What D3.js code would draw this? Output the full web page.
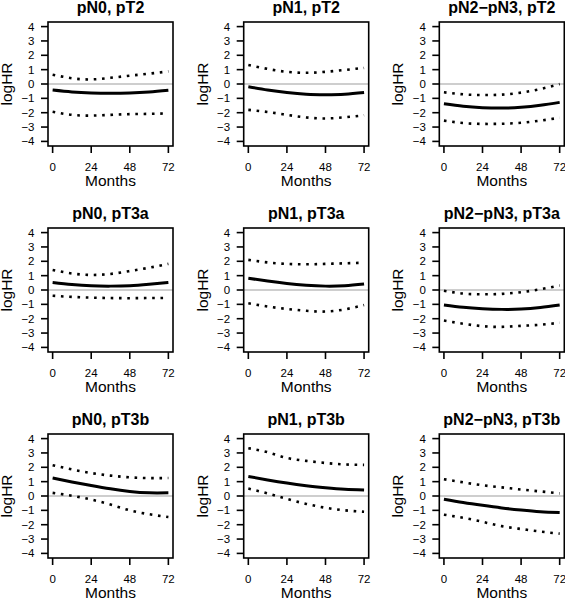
<!DOCTYPE html>
<html><head><meta charset="utf-8">
<script src="https://cdn.jsdelivr.net/npm/d3@7/dist/d3.min.js"></script>
<style>
html,body{margin:0;padding:0;background:#fff;}
svg{display:block;}
text{font-family:"Liberation Sans",Arial,Helvetica,sans-serif;fill:#000;}
</style></head>
<body>
<svg id="chart" width="565" height="598"></svg>
<script>
// ---- data ----
const months = [0, 12, 24, 36, 48, 60, 72];
const nodeLabels = ["pN0", "pN1", "pN2\u2212pN3"];
const stageLabels = ["pT2", "pT3a", "pT3b"];
const xTicks = [0, 24, 48, 72];
const yTicks = [-4, -3, -2, -1, 0, 1, 2, 3, 4];

// estimates (row = stage, col = node)
const est_pN0_pT2  = [-0.42, -0.55, -0.62, -0.64, -0.62, -0.55, -0.43];
const up_pN0_pT2   = [0.65, 0.40, 0.32, 0.43, 0.58, 0.72, 0.88];
const lo_pN0_pT2   = [-1.93, -2.15, -2.20, -2.15, -2.10, -2.08, -2.05];

const est_pN1_pT2  = [-0.19, -0.42, -0.60, -0.72, -0.75, -0.72, -0.60];
const up_pN1_pT2   = [1.33, 1.05, 0.85, 0.78, 0.85, 0.98, 1.12];
const lo_pN1_pT2   = [-1.80, -1.95, -2.15, -2.33, -2.40, -2.32, -2.18];

const est_pN23_pT2 = [-1.38, -1.55, -1.65, -1.68, -1.62, -1.48, -1.28];
const up_pN23_pT2  = [-0.58, -0.72, -0.77, -0.74, -0.60, -0.35, 0.00];
const lo_pN23_pT2  = [-2.55, -2.72, -2.78, -2.77, -2.70, -2.55, -2.35];

const est_pN0_pT3a  = [0.52, 0.38, 0.29, 0.27, 0.30, 0.40, 0.52];
const up_pN0_pT3a   = [1.40, 1.15, 1.05, 1.12, 1.32, 1.55, 1.82];
const lo_pN0_pT3a   = [-0.40, -0.48, -0.53, -0.56, -0.57, -0.56, -0.55];

const est_pN1_pT3a  = [0.82, 0.62, 0.45, 0.33, 0.27, 0.30, 0.42];
const up_pN1_pT3a   = [2.10, 1.92, 1.82, 1.79, 1.82, 1.86, 1.90];
const lo_pN1_pT3a   = [-0.92, -1.15, -1.32, -1.45, -1.50, -1.35, -1.05];

const est_pN23_pT3a = [-1.04, -1.20, -1.30, -1.35, -1.33, -1.22, -1.05];
const up_pN23_pT3a  = [-0.05, -0.25, -0.30, -0.27, -0.15, 0.05, 0.32];
const lo_pN23_pT3a  = [-2.13, -2.35, -2.52, -2.57, -2.50, -2.42, -2.28];

const est_pN0_pT3b  = [1.25, 0.98, 0.73, 0.50, 0.32, 0.22, 0.22];
const up_pN0_pT3b   = [2.15, 1.85, 1.60, 1.42, 1.30, 1.25, 1.25];
const lo_pN0_pT3b   = [0.22, 0.02, -0.25, -0.60, -1.00, -1.27, -1.47];

const est_pN1_pT3b  = [1.36, 1.12, 0.90, 0.72, 0.58, 0.47, 0.42];
const up_pN1_pT3b   = [3.33, 3.05, 2.65, 2.45, 2.30, 2.20, 2.17];
const lo_pN1_pT3b   = [0.52, 0.18, -0.20, -0.55, -0.82, -1.00, -1.10];

const est_pN23_pT3b = [-0.22, -0.45, -0.65, -0.83, -0.98, -1.10, -1.15];
const up_pN23_pT3b  = [1.17, 0.95, 0.75, 0.60, 0.45, 0.32, 0.18];
const lo_pN23_pT3b  = [-1.30, -1.52, -1.80, -2.10, -2.30, -2.48, -2.62];

const panels = [
  [[est_pN0_pT2, up_pN0_pT2, lo_pN0_pT2], [est_pN1_pT2, up_pN1_pT2, lo_pN1_pT2], [est_pN23_pT2, up_pN23_pT2, lo_pN23_pT2]],
  [[est_pN0_pT3a, up_pN0_pT3a, lo_pN0_pT3a], [est_pN1_pT3a, up_pN1_pT3a, lo_pN1_pT3a], [est_pN23_pT3a, up_pN23_pT3a, lo_pN23_pT3a]],
  [[est_pN0_pT3b, up_pN0_pT3b, lo_pN0_pT3b], [est_pN1_pT3b, up_pN1_pT3b, lo_pN1_pT3b], [est_pN23_pT3b, up_pN23_pT3b, lo_pN23_pT3b]]
];

// ---- layout ----
const colLeft = [48, 243.7, 439.3];
const rowTop = [22, 228, 434];
const pw = 125, ph = 124;

const svg = d3.select("#chart");

panels.forEach((row, r) => {
  row.forEach((cell, c) => {
    const g = svg.append("g").attr("transform", `translate(${colLeft[c]},${rowTop[r]})`);
    const x = d3.scaleLinear().domain([-2.88, 74.88]).range([0, pw]);
    const y = d3.scaleLinear().domain([-4.32, 4.32]).range([ph, 0]);

    // reference line at 0
    g.append("line").attr("x1", 0).attr("x2", pw).attr("y1", y(0)).attr("y2", y(0))
      .attr("stroke", "#bebebe").attr("stroke-width", 1.6);

    const line = d3.line().x((d, i) => x(months[i])).y(d => y(d)).curve(d3.curveNatural);

    // CI dotted
    [cell[1], cell[2]].forEach(arr => {
      g.append("path").attr("d", line(arr)).attr("fill", "none")
        .attr("stroke", "#000").attr("stroke-width", 2.6)
        .attr("stroke-dasharray", "2.6,5.7");
    });
    // estimate
    g.append("path").attr("d", line(cell[0])).attr("fill", "none")
      .attr("stroke", "#000").attr("stroke-width", 3);

    // box
    g.append("rect").attr("x", 0).attr("y", 0).attr("width", pw).attr("height", ph)
      .attr("fill", "none").attr("stroke", "#000").attr("stroke-width", 1.6);

    // x axis
    const xa = g.append("g").attr("transform", `translate(0,${ph})`);
    xTicks.forEach(t => {
      xa.append("line").attr("x1", x(t)).attr("x2", x(t)).attr("y1", 0).attr("y2", 7)
        .attr("stroke", "#000").attr("stroke-width", 1.6);
      xa.append("text").attr("x", x(t)).attr("y", 25).attr("text-anchor", "middle")
        .attr("font-size", 11.5).text(t);
    });
    xa.append("text").attr("x", pw / 2).attr("y", 39.5).attr("text-anchor", "middle")
      .attr("font-size", 15.5).text("Months");

    // y axis
    yTicks.forEach(t => {
      g.append("line").attr("x1", -7).attr("x2", 0).attr("y1", y(t)).attr("y2", y(t))
        .attr("stroke", "#000").attr("stroke-width", 1.6);
      g.append("text").attr("x", -13.5).attr("y", y(t) + 4).attr("text-anchor", "end")
        .attr("font-size", 11.5).text(t < 0 ? "\u2212" + Math.abs(t) : t);
    });
    g.append("text").attr("transform", `translate(-36,${ph / 2}) rotate(-90)`)
      .attr("text-anchor", "middle").attr("font-size", 15.5).text("logHR");

    // title
    g.append("text").attr("x", pw / 2).attr("y", -9.3).attr("text-anchor", "middle")
      .attr("font-size", 16).attr("font-weight", "bold")
      .text(`${nodeLabels[c]}, ${stageLabels[r]}`);
  });
});
</script>
</body></html>
